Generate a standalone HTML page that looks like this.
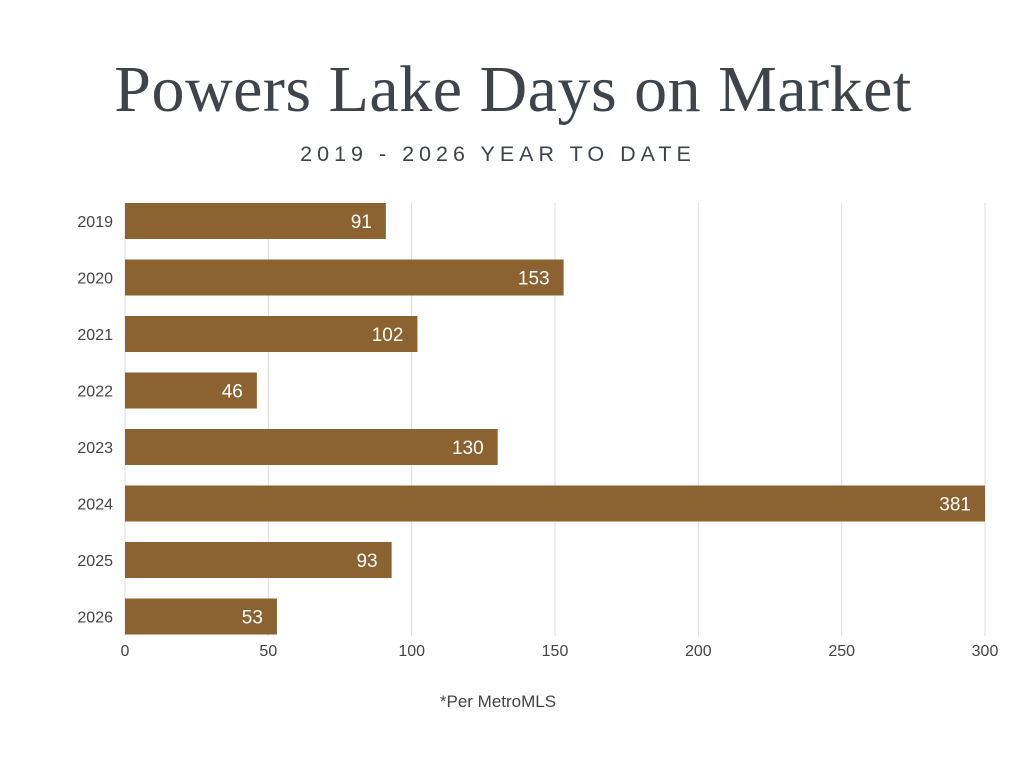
<!DOCTYPE html>
<html><head><meta charset="utf-8"><style>
body{margin:0;background:#fff;width:1024px;height:768px;overflow:hidden;font-family:"Liberation Sans",sans-serif}
</style></head><body>
<svg width="1024" height="768">
<text x="513" y="111" text-anchor="middle" font-family="Liberation Serif, serif" font-size="66" letter-spacing="0.5" fill="#3f444a">Powers Lake Days on Market</text>
<text x="498" y="161" text-anchor="middle" font-size="21.5" letter-spacing="5" fill="#3f444a">2019 - 2026 YEAR TO DATE</text>
<g id="grid"></g><g id="bars"></g><g id="axis"></g>
<text x="498" y="707" text-anchor="middle" font-size="17" fill="#444">*Per MetroMLS</text>
</svg>
<script>
const categories=["2019","2020","2021","2022","2023","2024","2025","2026"];
const values=[91,153,102,46,130,381,93,53];
const ticks=[0,50,100,150,200,250,300];
const ns="http://www.w3.org/2000/svg";
const x0=125,x1=985,max=300,top0=203,step=56.5,bh=36;
const xs=v=>x0+(Math.min(v,max)/max)*(x1-x0);
function mk(t,a,p){const e=document.createElementNS(ns,t);for(const k in a)e.setAttribute(k,a[k]);p.appendChild(e);return e;}
const g=document.getElementById("grid"),b=document.getElementById("bars"),ax=document.getElementById("axis");
ticks.forEach(t=>{
 const l=mk("line",{x1:xs(t),x2:xs(t),y1:top0,y2:636,stroke:"#dcdcdc","stroke-width":1},g);
 
 
 const tx=mk("text",{x:xs(t),y:656,"text-anchor":"middle","font-size":16,fill:"#444"},ax);
 tx.textContent=t;
 
 
});
categories.forEach((c,i)=>{
 const y=top0+i*step;
 const r=mk("rect",{x:x0,y:y,width:xs(values[i])-x0,height:bh,fill:"#8b6230"},b);
 
 
 const v=mk("text",{x:xs(values[i])-14,y:y+bh/2+7,"text-anchor":"end","font-size":19,fill:"#fff"},b);
 v.textContent=values[i];
 
 
 const l=mk("text",{x:113,y:y+bh/2+6,"text-anchor":"end","font-size":16,fill:"#444"},ax);
 l.textContent=c;
 
 
});
</script>
</body></html>
